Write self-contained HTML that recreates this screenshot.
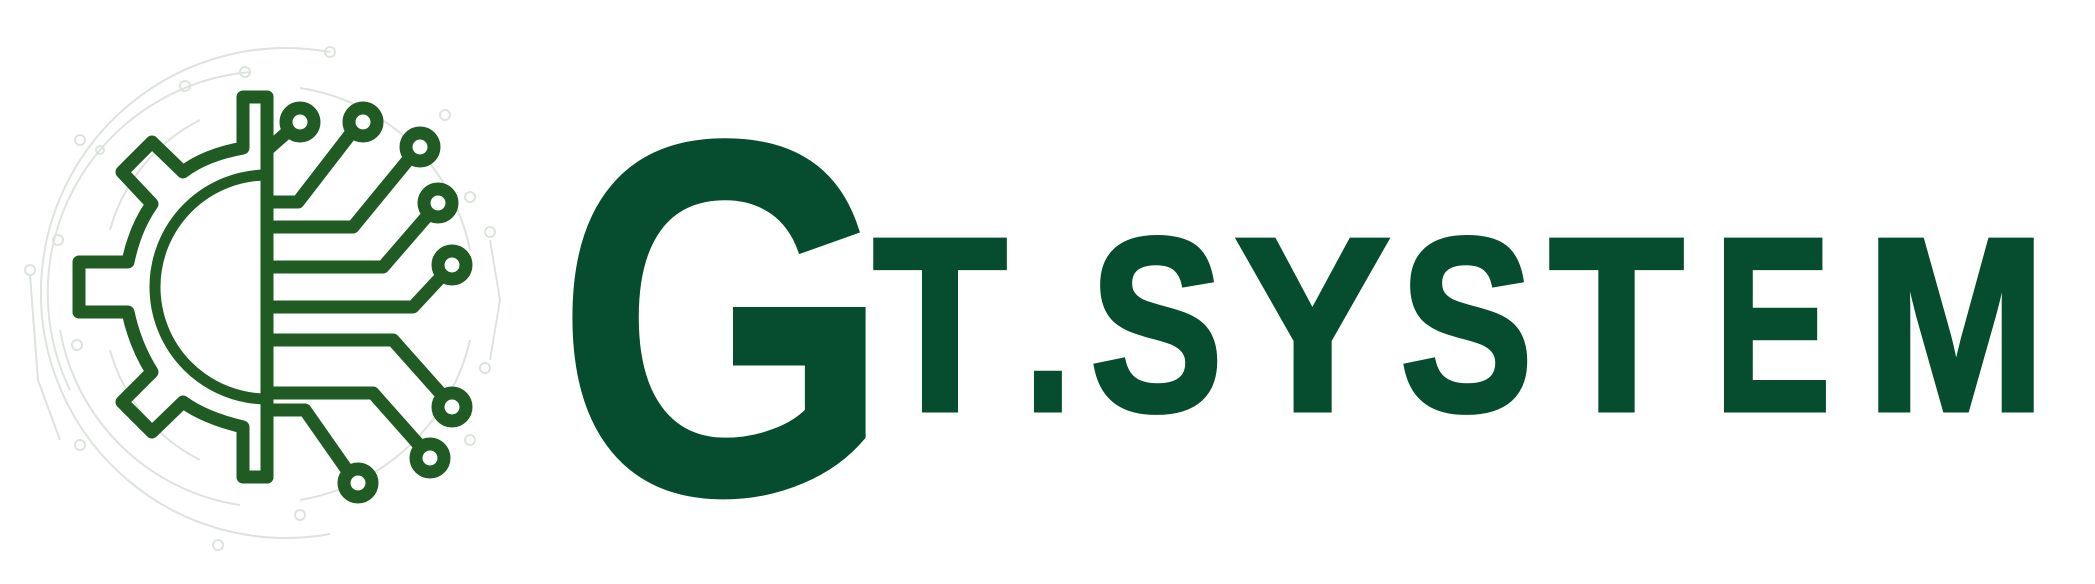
<!DOCTYPE html>
<html>
<head>
<meta charset="utf-8">
<style>
  html,body{margin:0;padding:0;background:#fff;}
  body{width:2095px;height:584px;overflow:hidden;}
  svg{display:block;}
  .ltr{font-family:"Liberation Sans",sans-serif;font-weight:bold;fill:#054d2e;stroke:#054d2e;stroke-width:5;stroke-linejoin:miter;}
</style>
</head>
<body>
<svg width="2095" height="584" viewBox="0 0 2095 584">
  <g fill="none" stroke="#dde3dd" stroke-width="2">
    <path d="M330 52 A245 245 0 1 0 330 534"/>
    <path d="M250 72 A222 222 0 0 0 70 390"/>
    <path d="M300 88 A205 205 0 0 1 470 250"/>
    <path d="M300 500 A210 210 0 0 0 470 340"/>
    <path d="M240 505 A215 215 0 0 1 60 330"/>
    <path d="M200 120 A175 175 0 0 0 110 230"/>
    <path d="M200 460 A175 175 0 0 1 110 350"/>
    <path d="M30 275 L38 380 L60 440"/>
    <path d="M490 240 L500 300 L490 360"/>
    <circle cx="330" cy="52" r="5"/><circle cx="245" cy="72" r="5"/>
    <circle cx="30" cy="270" r="5"/><circle cx="490" cy="232" r="5"/>
    <circle cx="80" cy="140" r="5"/><circle cx="80" cy="445" r="5"/>
    <circle cx="485" cy="368" r="5"/><circle cx="470" cy="440" r="5"/>
    <circle cx="185" cy="86" r="5"/><circle cx="218" cy="545" r="5"/>
    <circle cx="58" cy="240" r="5"/><circle cx="77" cy="345" r="5"/>
    <circle cx="100" cy="150" r="4"/><circle cx="300" cy="515" r="5"/>
    <circle cx="445" cy="115" r="5"/><circle cx="470" cy="197" r="5"/>
  </g>
  <g fill="none" stroke="#1f5b22" stroke-width="13" stroke-linejoin="round" stroke-linecap="round">
    <path d="M267 97 L243 97 L243 148 Q205 155 183 172 L152 142 L122 172 L152 204 Q135 228 128 262 L79 262 L79 312 L128 312 Q135 345 152 372 L122 402 L152 432 L183 402 Q205 418 243 427 L243 477 L267 477"/>
    <path d="M267 175 A112 112 0 0 0 267 399" stroke-width="11"/>
    <line x1="267" y1="97" x2="267" y2="477"/>
    <path d="M267 150 L292 128"/>
    <path d="M267 202 L298 202 L352 132"/>
    <path d="M267 227 L353 227 L408 160"/>
    <path d="M267 267 L383 267 L428 215"/>
    <path d="M267 307 L413 307 L441 277"/>
    <path d="M267 340 L393 340 L442 395"/>
    <path d="M267 393 L373 393 L420 446"/>
    <path d="M267 410 L305 410 L347 470"/>
    <g fill="#fff" stroke-width="13">
      <circle cx="300" cy="122" r="14"/>
      <circle cx="363" cy="122" r="14"/>
      <circle cx="420" cy="147" r="14"/>
      <circle cx="438" cy="203" r="14"/>
      <circle cx="452" cy="265" r="14"/>
      <circle cx="452" cy="407" r="14"/>
      <circle cx="430" cy="458" r="14"/>
      <circle cx="358" cy="483" r="14"/>
    </g>
  </g>
  <text class="ltr" x="557" y="492" font-size="503" stroke-width="8" textLength="333" lengthAdjust="spacingAndGlyphs">G</text>
  <g>
    <text class="ltr" x="873" y="410" font-size="247" textLength="134" lengthAdjust="spacingAndGlyphs">T</text>
    <text class="ltr" x="1024" y="410" font-size="247" textLength="48" lengthAdjust="spacingAndGlyphs">.</text>
    <text class="ltr" x="1090" y="410" font-size="247" textLength="133" lengthAdjust="spacingAndGlyphs">S</text>
    <text class="ltr" x="1235" y="410" font-size="247" textLength="155" lengthAdjust="spacingAndGlyphs">Y</text>
    <text class="ltr" x="1400" y="410" font-size="247" textLength="133" lengthAdjust="spacingAndGlyphs">S</text>
    <text class="ltr" x="1549" y="410" font-size="247" textLength="135" lengthAdjust="spacingAndGlyphs">T</text>
    <text class="ltr" x="1714" y="410" font-size="247" textLength="117" lengthAdjust="spacingAndGlyphs">E</text>
    <text class="ltr" x="1866" y="410" font-size="247" textLength="180" lengthAdjust="spacingAndGlyphs">M</text>
  </g>
</svg>
</body>
</html>
